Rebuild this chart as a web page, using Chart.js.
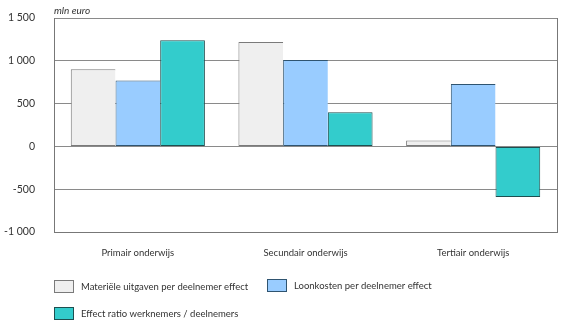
<!DOCTYPE html>
<html lang="nl">
<head>
    <meta charset="UTF-8">
    <title>Effecten per onderwijssector</title>
    <script src="https://cdn.jsdelivr.net/npm/chart.js"></script>
    <style>
        html, body { margin: 0; padding: 0; background: #fff; }
        #wrap { width: 571px; height: 335px; position: relative; }
    </style>
</head>
<body>
<div id="wrap"><canvas id="effectChart"></canvas></div>
<script>
    // Gegevens (mln euro)
    const sectoren = ['Primair onderwijs', 'Secundair onderwijs', 'Tertiair onderwijs'];
    const materieel = [900, 1220, 70];
    const loonkosten = [770, 1010, 730];
    const ratio = [1240, 400, -590];
    const reeksNamen = [
        'Materiële uitgaven per deelnemer effect',
        'Loonkosten per deelnemer effect',
        'Effect ratio werknemers / deelnemers'
    ];
    const yTicks = [-1000, -500, 0, 500, 1000, 1500];

    const fontFam = 'Lato, "Noto Sans", sans-serif';
    const tekstKleur = '#333';

    function fmt(v) {
        const s = Math.abs(v).toString().replace(/\B(?=(\d{3})+(?!\d))/g, ' ');
        return (v < 0 ? '-' : '') + s;
    }

    // kader rond het plotgebied + legenda onderaan
    const kaderEnLegenda = {
        id: 'kaderEnLegenda',
        afterDraw(chart) {
            const ctx = chart.ctx;
            const a = chart.chartArea;
            ctx.save();
            ctx.strokeStyle = '#777';
            ctx.lineWidth = 1;
            ctx.beginPath();
            ctx.moveTo(Math.round(a.right) + 0.5, a.top);
            ctx.lineTo(Math.round(a.right) + 0.5, a.bottom);
            ctx.stroke();

            // legenda
            const items = [
                { x: a.left, y: 280 },
                { x: 267, y: 279 },
                { x: a.left, y: 307 }
            ];
            ctx.font = '9.5px ' + fontFam;
            ctx.textBaseline = 'middle';
            chart.data.datasets.forEach((ds, i) => {
                const it = items[i];
                ctx.fillStyle = ds.backgroundColor;
                ctx.fillRect(it.x + 0.5, it.y + 0.5, 19, 12);
                ctx.strokeStyle = ds.borderColor;
                ctx.strokeRect(it.x + 0.5, it.y + 0.5, 19, 12);
                ctx.fillStyle = tekstKleur;
                ctx.fillText(ds.label, it.x + 27, it.y + 6.5);
            });

            // eenheid boven de as
            ctx.font = 'italic 10px ' + fontFam;
            ctx.fillText('mln euro', a.left, 11);
            ctx.restore();
        }
    };

    // aangrenzende staven delen één randlijn
    const kolommen = [
        { label: reeksNamen[0], data: materieel, backgroundColor: '#efefef', borderColor: '#7a7a7a' },
        { label: reeksNamen[1], data: loonkosten, backgroundColor: '#99ccff', borderColor: '#2f5470' },
        { label: reeksNamen[2], data: ratio, backgroundColor: '#33cccc', borderColor: '#1d4f50' }
    ].map((ds, i, all) => Object.assign(ds, {
        borderWidth: { top: 1, bottom: 1, left: 1, right: i === all.length - 1 ? 1 : 0 },
        borderSkipped: false,
        categoryPercentage: 0.8,
        barPercentage: 1,
        inflateAmount: 0
    }));

    new Chart(document.getElementById('effectChart'), {
        type: 'bar',
        data: { labels: sectoren, datasets: kolommen },
        options: {
            responsive: true,
            maintainAspectRatio: false,
            animation: false,
            layout: { padding: { top: 18, right: 14, left: 0, bottom: 0 } },
            plugins: {
                legend: { display: false },
                tooltip: { enabled: false }
            },
            scales: {
                x: {
                    grid: { display: false },
                    border: { display: true, color: '#777' },
                    ticks: { color: tekstKleur, font: { family: fontFam, size: 9.5 }, padding: 7 },
                    afterFit(scale) { scale.height = 103; }
                },
                y: {
                    min: -1000,
                    max: 1500,
                    afterBuildTicks(scale) { scale.ticks = yTicks.map(v => ({ value: v })); },
                    grid: { color: '#8a8a8a', lineWidth: 1, drawTicks: false },
                    border: { display: true, color: '#777' },
                    ticks: {
                        color: tekstKleur,
                        font: { family: fontFam, size: 10.5 },
                        padding: 19,
                        callback: v => fmt(v)
                    },
                    afterFit(scale) {
                        scale.width = 54;
                        scale.paddingTop = 0;
                        scale.paddingBottom = 0;
                    }
                }
            }
        },
        plugins: [kaderEnLegenda]
    });
</script>
</body>
</html>
